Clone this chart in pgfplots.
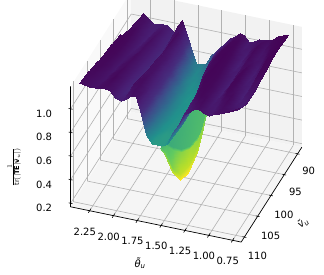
\documentclass[border=0pt]{standalone}
\usepackage{fontspec}
\setmainfont{DejaVu Sans}
\usepackage{pgfplots}
\pgfplotsset{compat=1.18}
\usepgfplotslibrary{colormaps}
\begin{document}
\begin{tikzpicture}
\begin{axis}[
  set layers=standard,
  clip=false,
  x={(-95.3pt,19.7pt)}, y={(-2.66pt,-4.16pt)}, z={(0pt,118pt)},
  xmin=0.66, xmax=2.45, ymin=88.4, ymax=111.2, zmin=0.17, zmax=1.19,
  axis line style={draw=none},
  grid=major, grid style={color=black!30, line width=0.6pt},
  tickpos=left, major tick length=0pt,
  tick label style={font=\fontsize{10}{10}\selectfont},
  xticklabel style={xshift=-2pt,yshift=-11pt},
  yticklabel style={xshift=3pt,yshift=-7pt},
  zticklabel style={xshift=-15pt},
  /pgf/number format/assume math mode=true,
  xtick={0.75,1,1.25,1.5,1.75,2,2.25},
  xticklabels={0.75,1.00,1.25,1.50,1.75,2.00,2.25},
  ytick={90,95,100,105,110},
  ztick={0.2,0.4,0.6,0.8,1.0},
  zticklabels={0.2,0.4,0.6,0.8,1.0},
  xlabel={{\itshape θ̃}\textsubscript{\itshape u}},
  ylabel={{\itshape ṽ}\textsubscript{\itshape u}},
  zlabel={\fontsize{9.5}{10}\selectfont$\frac{1}{\mathrm{tr}(|\mathbf{TE}|\tilde{\mathbf{v}}_u|)}$},
  every axis x label/.style={at={(axis cs:1.473,120.1,0.17)},anchor=center,font=\fontsize{10}{10}\selectfont},
  every axis y label/.style={at={(axis cs:0.2,104.44,0.17)},anchor=center,rotate=40,font=\fontsize{10}{10}\selectfont},
  every axis z label/.style={at={(axis cs:3.281,102.68,0.17)},anchor=center,rotate=90,xshift=-12pt},
  colormap={vr}{rgb255(58cm)=(253,231,37) rgb255(64cm)=(181,222,43) rgb255(72cm)=(94,201,98)
    rgb255(84cm)=(33,145,140) rgb255(93cm)=(49,104,142) rgb255(100cm)=(62,74,137)
    rgb255(106cm)=(70,45,125) rgb255(113cm)=(72,30,115) rgb255(122cm)=(68,8,90) rgb255(130cm)=(68,1,84)},
  point meta min=0.58, point meta max=1.30,
]
% panes
\addplot3[on layer=axis background,fill=black!2.5,draw=none] coordinates {(2.45,88.4,0.17)(2.45,111.2,0.17)(2.45,111.2,1.19)(2.45,88.4,1.19)(2.45,88.4,0.17)};
\addplot3[on layer=axis background,fill=black!5,draw=none] coordinates {(0.66,88.4,0.17)(2.45,88.4,0.17)(2.45,88.4,1.19)(0.66,88.4,1.19)(0.66,88.4,0.17)};
\addplot3[on layer=axis background,fill=black!3.75,draw=none] coordinates {(0.66,88.4,0.17)(2.45,88.4,0.17)(2.45,111.2,0.17)(0.66,111.2,0.17)(0.66,88.4,0.17)};
% axis lines and ticks
\addplot3[black,line width=0.7pt] coordinates {(2.45,111.2,1.19)(2.45,111.2,0.17)(0.66,111.2,0.17)(0.66,88.4,0.17)};
\pgfplotsinvokeforeach{0.75,1,1.25,1.5,1.75,2,2.25}{\addplot3[black,line width=0.6pt] coordinates {(#1,110.7,0.17)(#1,111.7,0.17)};}
\pgfplotsinvokeforeach{90,95,100,105,110}{\addplot3[black,line width=0.6pt] coordinates {(0.68,#1,0.17)(0.64,#1,0.17)};}
\pgfplotsinvokeforeach{0.2,0.4,0.6,0.8,1.0}{\addplot3[black,line width=0.6pt] coordinates {(2.43,111.2,#1)(2.47,111.2,#1)};}
% front sheet of the trough
\addplot3[surf,shader=interp,z buffer=sort,mesh/cols=8,point meta=\thisrow{m}] table {
x y z m
1.531 110.5 .797 .68
1.478 110.5 .746 .67
1.405 110.5 .611 .63
1.321 110.5 .560 .58
1.237 110.5 .636 .58
1.143 110.5 .831 .63
1.080 110.5 1.043 .67
1.048 110.5 1.183 .70
1.531 110.4 .797 .73
1.478 110.4 .772 .72
1.405 110.4 .653 .69
1.321 110.4 .611 .63
1.237 110.4 .687 .63
1.143 110.4 .873 .66
1.080 110.4 1.060 .69
1.048 110.4 1.191 .72
1.531 110.3 .797 .76
1.478 110.3 .823 .75
1.405 110.3 .797 .72
1.321 110.3 .789 .68
1.237 110.3 .831 .66
1.143 110.3 .933 .67
1.080 110.3 1.077 .70
1.048 110.3 1.200 .73
1.531 110.2 .806 .79
1.478 110.2 .840 .79
1.405 110.2 .814 .78
1.321 110.2 .814 .77
1.237 110.2 .856 .76
1.143 110.2 .958 .75
1.080 110.2 1.094 .75
1.048 110.2 1.208 .75
1.531 109.5 1.187 .80
1.478 109.5 1.212 .80
1.405 109.5 1.221 .79
1.321 109.5 1.238 .78
1.237 109.5 1.255 .77
1.143 109.5 1.272 .76
1.080 109.5 1.280 .75
1.048 109.5 1.284 .75
};
% surface
\addplot3[surf,shader=interp,z buffer=sort,mesh/cols=31,
  point meta={\thisrowno{0}+0.15*(1-floor(\coordindex/31)/14)}]
 table[row sep=\\,header=false,
   x expr={(2.30+0.08*floor(\coordindex/31)/14)+((0.785-0.035*floor(\coordindex/31)/14)-(2.30+0.08*floor(\coordindex/31)/14))*mod(\coordindex,31)/30},
   y expr={89.2+21.3/14*floor(\coordindex/31)},
   z expr=\thisrowno{0}] {
1.06\\1.03\\.99\\.99\\1.00\\1.00\\.97\\.94\\1.07\\.95\\.82\\.73\\.73\\.75\\.82\\.87\\.91\\.95\\1.00\\1.03\\1.06\\1.05\\1.00\\1.02\\1.04\\1.04\\1.05\\1.07\\1.10\\1.12\\1.13\\
1.07\\1.05\\1.00\\.99\\1.02\\1.03\\.98\\.94\\1.08\\1.02\\.86\\.76\\.72\\.74\\.78\\.86\\.93\\.97\\1.01\\1.05\\1.08\\1.08\\1.01\\1.02\\1.05\\1.07\\1.04\\1.07\\1.10\\1.12\\1.13\\
1.08\\1.07\\1.03\\1.00\\1.04\\1.05\\1.00\\.95\\1.06\\1.08\\.93\\.80\\.73\\.73\\.75\\.82\\.93\\.99\\1.03\\1.07\\1.10\\1.10\\1.03\\1.01\\1.06\\1.09\\1.04\\1.06\\1.10\\1.13\\1.14\\
1.09\\1.10\\1.06\\1.01\\1.05\\1.07\\1.02\\.96\\1.05\\1.09\\.98\\.84\\.75\\.73\\.74\\.78\\.88\\1.00\\1.05\\1.09\\1.12\\1.12\\1.06\\1.01\\1.06\\1.10\\1.05\\1.05\\1.10\\1.14\\1.15\\
1.11\\1.12\\1.08\\1.03\\1.06\\1.09\\1.04\\.97\\1.03\\1.10\\1.02\\.88\\.78\\.74\\.74\\.76\\.84\\.97\\1.06\\1.10\\1.14\\1.14\\1.09\\1.02\\1.05\\1.11\\1.08\\1.04\\1.09\\1.15\\1.155\\
1.13\\1.14\\1.10\\1.05\\1.07\\1.10\\1.06\\.99\\1.02\\1.10\\1.05\\.92\\.81\\.76\\.74\\.75\\.81\\.94\\1.07\\1.11\\1.15\\1.16\\1.11\\1.04\\1.05\\1.11\\1.11\\1.04\\1.08\\1.15\\1.15\\
1.15\\1.16\\1.11\\1.07\\1.08\\1.11\\1.07\\1.00\\1.02\\1.11\\1.08\\.96\\.84\\.78\\.75\\.75\\.79\\.90\\1.05\\1.12\\1.14\\1.17\\1.13\\1.07\\1.05\\1.11\\1.14\\1.05\\1.07\\1.15\\1.14\\
1.16\\1.17\\1.13\\1.09\\1.10\\1.13\\1.08\\1.01\\1.03\\1.12\\1.10\\.99\\.87\\.80\\.77\\.76\\.78\\.86\\1.01\\1.13\\1.15\\1.18\\1.15\\1.10\\1.05\\1.12\\1.16\\1.07\\1.06\\1.14\\1.13\\
1.17\\1.18\\1.14\\1.10\\1.12\\1.14\\1.09\\1.03\\1.04\\1.13\\1.12\\1.02\\.90\\.82\\.78\\.77\\.78\\.84\\.96\\1.11\\1.16\\1.19\\1.17\\1.12\\1.06\\1.12\\1.18\\1.10\\1.06\\1.13\\1.13\\
1.17\\1.18\\1.15\\1.11\\1.14\\1.15\\1.11\\1.04\\1.05\\1.14\\1.13\\1.05\\.93\\.84\\.79\\.78\\.78\\.83\\.92\\1.06\\1.17\\1.19\\1.18\\1.14\\1.07\\1.13\\1.19\\1.13\\1.07\\1.12\\1.13\\
1.17\\1.18\\1.16\\1.12\\1.15\\1.17\\1.12\\1.05\\1.06\\1.15\\1.15\\1.08\\.95\\.86\\.80\\.79\\.79\\.83\\.90\\1.02\\1.15\\1.20\\1.19\\1.16\\1.09\\1.13\\1.19\\1.16\\1.09\\1.11\\1.135\\
1.18\\1.19\\1.16\\1.14\\1.17\\1.18\\1.14\\1.06\\1.08\\1.17\\1.17\\1.11\\.98\\.87\\.81\\.80\\.80\\.83\\.90\\1.00\\1.12\\1.19\\1.20\\1.17\\1.11\\1.13\\1.18\\1.18\\1.12\\1.11\\1.14\\
1.19\\1.19\\1.17\\1.15\\1.18\\1.20\\1.15\\1.08\\1.09\\1.18\\1.18\\1.14\\1.00\\.88\\.82\\.80\\.80\\.83\\.91\\1.00\\1.12\\1.18\\1.20\\1.19\\1.13\\1.13\\1.17\\1.19\\1.15\\1.13\\1.17\\
1.20\\1.19\\1.18\\1.17\\1.19\\1.20\\1.17\\1.11\\1.11\\1.17\\1.19\\1.17\\1.03\\.88\\.82\\.81\\.81\\.83\\.92\\1.01\\1.11\\1.16\\1.19\\1.20\\1.15\\1.14\\1.17\\1.19\\1.18\\1.18\\1.21\\
1.21\\1.20\\1.19\\1.19\\1.20\\1.20\\1.19\\1.14\\1.13\\1.15\\1.19\\1.19\\1.05\\.88\\.82\\.82\\.82\\.84\\.945\\1.02\\1.116\\1.143\\1.176\\1.196\\1.17\\1.155\\1.18\\1.19\\1.205\\1.23\\1.25\\
};
\coordinate (O) at (axis cs:2.45,111.2,0.17);
\end{axis}
\pgfresetboundingbox
\path[use as bounding box] ([shift={(-70.6pt,-68.2pt)}]O) rectangle ([shift={(253.4pt,206.8pt)}]O);
\end{tikzpicture}
\end{document}
